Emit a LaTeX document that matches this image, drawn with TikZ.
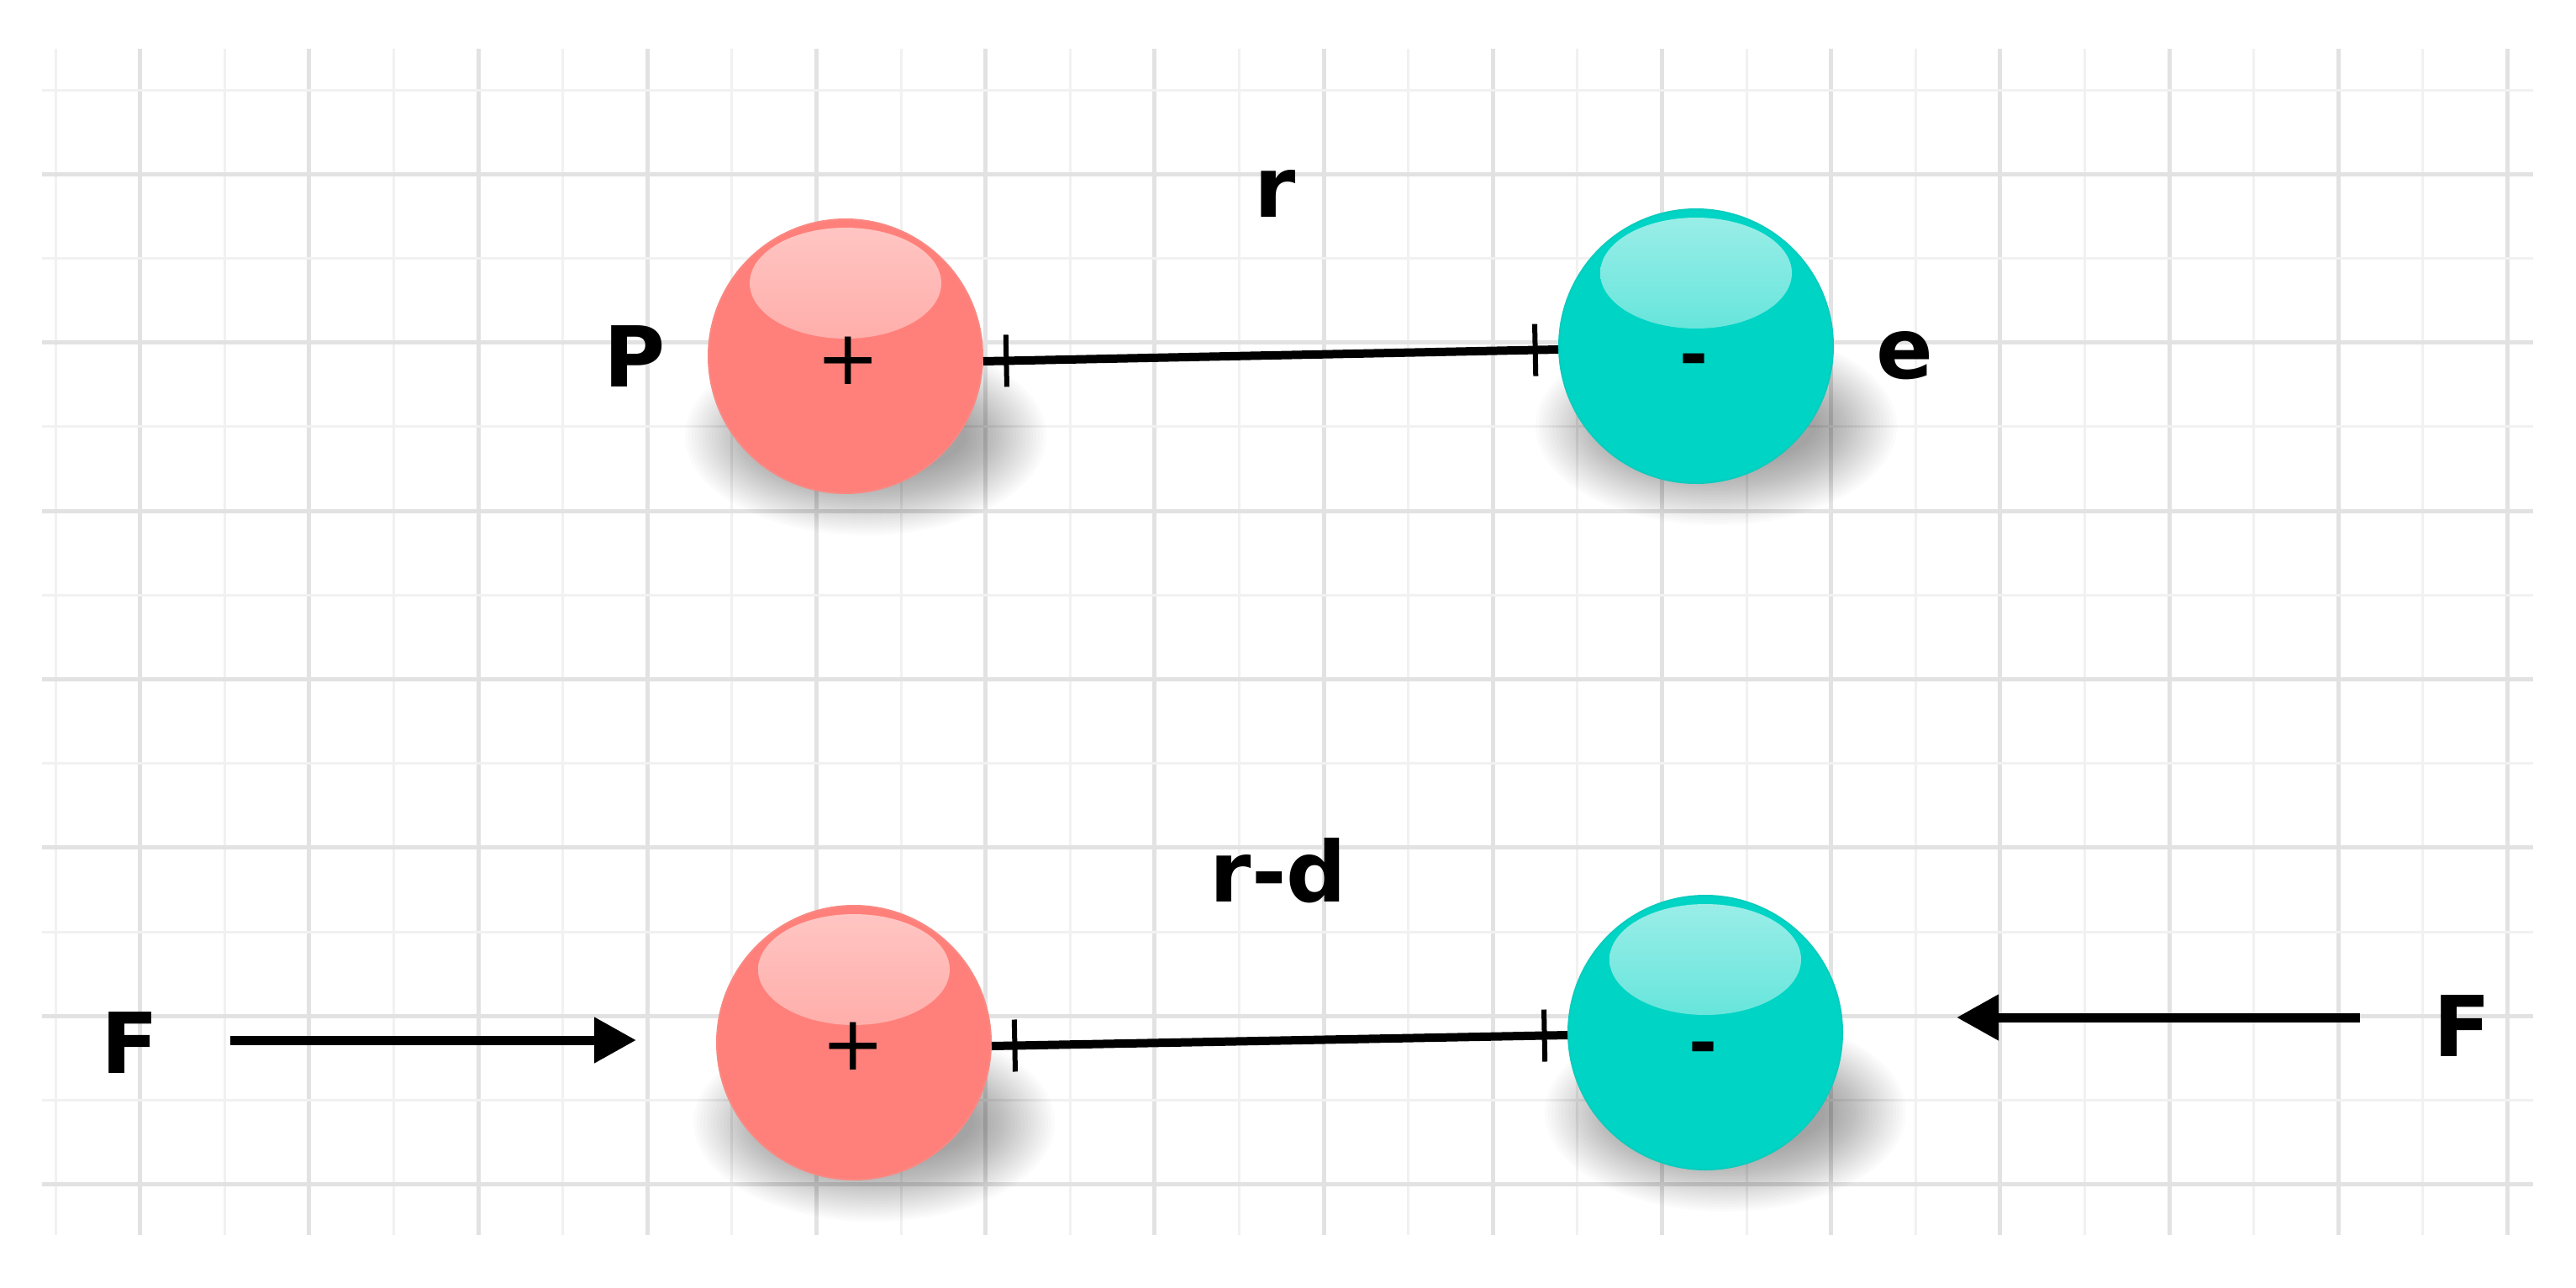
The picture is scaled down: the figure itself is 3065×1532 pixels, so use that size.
\documentclass[tikz,border=0pt]{standalone}
\usepackage{fontspec}
\setmainfont{DejaVu Sans}
\usetikzlibrary{arrows.meta}
\definecolor{gridA}{RGB}{241,241,241}
\definecolor{gridB}{RGB}{226,226,226}
\definecolor{posbase}{RGB}{255,128,122}
\definecolor{posrim}{RGB}{250,136,130}
\definecolor{negbase}{RGB}{0,212,196}
\definecolor{negrim}{RGB}{10,204,190}
\pgfdeclareverticalshading{poshl}{100bp}{color(0bp)=(posbase!94!white); color(25bp)=(posbase!88!white); color(55bp)=(posbase!62!white); color(100bp)=(posbase!22!white)}
\pgfdeclareverticalshading{neghl}{100bp}{color(0bp)=(negbase!94!white); color(25bp)=(negbase!86!white); color(55bp)=(negbase!58!white); color(100bp)=(negbase!14!white)}
\tikzset{
  gridthin/.style={draw=gridA, line width=3pt},
  gridthick/.style={draw=gridB, line width=5pt},
  lbl/.style={font=\fontsize{100}{120}\selectfont\bfseries, inner sep=0pt, anchor=base},
  minussign/.style={font=\fontsize{82}{100}\selectfont\bfseries, inner sep=0pt, anchor=base},
  plussign/.style={font=\fontsize{90}{100}\selectfont, inner sep=0pt, anchor=center},
  sphere/.style={circle, minimum size=326pt, inner sep=0pt, line width=2pt},
  possphere/.style={sphere, fill=posbase, draw=posrim,
    path picture={\shade[shading=poshl]
      ([yshift=87pt]path picture bounding box.center) ellipse [x radius=114pt, y radius=66pt];}},
  negsphere/.style={sphere, fill=negbase, draw=negrim,
    path picture={\shade[shading=neghl]
      ([yshift=87pt]path picture bounding box.center) ellipse [x radius=114pt, y radius=66pt];}},
  bond/.style={line width=10pt, black},
  tickmark/.style={rectangle, fill=black, minimum width=6pt, minimum height=62pt, inner sep=0pt, sloped},
  force/.style={line width=11pt, black, -{Triangle[length=50pt,width=52pt]}},
}
\begin{document}
\begin{tikzpicture}[x=1pt,y=-1pt]
\useasboundingbox (0,0) rectangle (3065,1532);
\fill[white] (0,0) rectangle (3065,1532);
% grid
\foreach \i in {0,2,...,28} \draw[gridthin] ({66+\i*100.6},58) -- ({66+\i*100.6},1470);
\foreach \i in {1,3,...,29} \draw[gridthick] ({66+\i*100.6},58) -- ({66+\i*100.6},1470);
\foreach \j in {0,2,...,12} \draw[gridthin] (50,{107+\j*100.2}) -- (3014,{107+\j*100.2});
\foreach \j in {1,3,...,13} \draw[gridthick] (50,{107+\j*100.2}) -- (3014,{107+\j*100.2});
% shadows
\foreach \cx/\cy in {1006/424, 2018/412, 1016/1241, 2029/1229} {
  \foreach \k in {0,...,24} {
    \fill[black, opacity=0.017] ({\cx+24},{\cy+95}) ellipse [x radius={(215-4*\k)*1pt}, y radius={(118-3*\k)*1pt}];
  }
}
% spheres
\node[possphere] (p1) at (1006,424) {};
\node[negsphere] (e1) at (2018,412) {};
\node[possphere] (p2) at (1016,1241) {};
\node[negsphere] (e2) at (2029,1229) {};
% signs
\node[plussign] (s1) at (1009,429) {+};
\node[plussign] (s2) at (1015,1245) {+};
\node[minussign] (m1) at (2015,450) {-};
\node[minussign] (m2) at (2026,1269) {-};
% bonds
\draw[bond] ([yshift=-6pt]p1.east) -- node[tickmark,pos=0.04]{} node[tickmark,pos=0.96]{} ([yshift=-4pt]e1.west);
\draw[bond] ([yshift=-4pt]p2.east) -- node[tickmark,pos=0.04]{} node[tickmark,pos=0.96]{} ([yshift=-3pt]e2.west);
% labels
\node[lbl] (lr) at (1517,258) {r};
\node[lbl] (lrd) at (1521,1073) {r-d};
\node[lbl] (lP) at (755,460) {P};
\node[lbl] (le) at (2266,450) {e};
\node[lbl] (lF1) at (155,1277) {F};
\node[lbl] (lF2) at (2930,1257) {F};
% forces
\coordinate (a1s) at (274,1238);
\coordinate (a1e) at (757,1238);
\coordinate (a2s) at (2808,1211);
\coordinate (a2e) at (2328,1211);
\draw[force] (a1s) -- (a1e);
\draw[force] (a2s) -- (a2e);
\end{tikzpicture}
\end{document}
